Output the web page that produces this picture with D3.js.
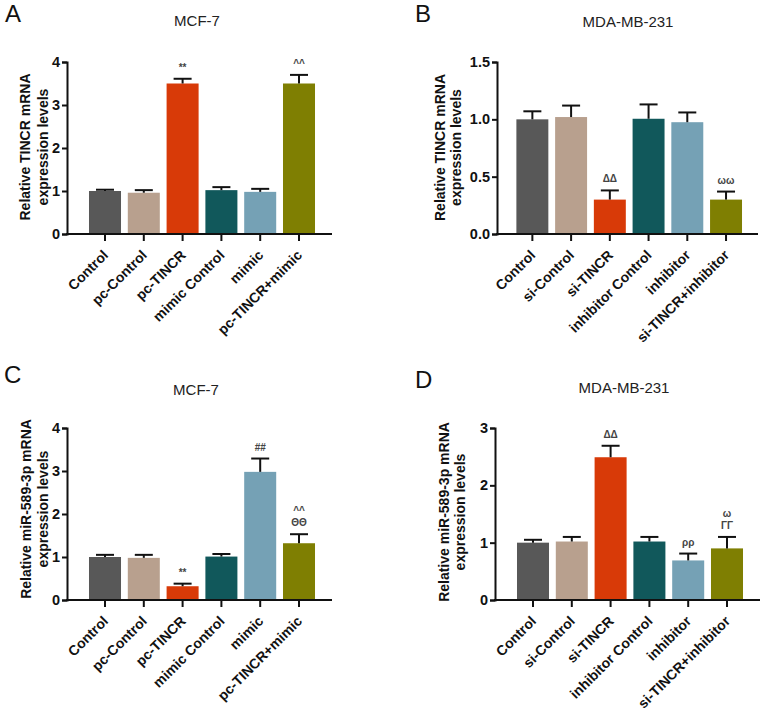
<!DOCTYPE html>
<html><head><meta charset="utf-8">
<script src="https://cdn.jsdelivr.net/npm/d3@7"></script>
<style>body{margin:0;background:#fff} text{font-family:"Liberation Sans",Arial,Helvetica,sans-serif}</style>
</head><body><svg id="c" width="765" height="715"></svg>
<script>
// ---- data ----
const catsMCF = ["Control","pc-Control","pc-TINCR","mimic Control","mimic","pc-TINCR+mimic"];
const catsMDA = ["Control","si-Control","si-TINCR","inhibitor Control","inhibitor","si-TINCR+inhibitor"];
const barColors = ["#585858","#b8a08e","#d83a08","#11585b","#75a1b5","#7f7f02"];

const valsA = [1.00,0.96,3.50,1.02,0.98,3.50];
const errA  = [0.03,0.06,0.11,0.07,0.07,0.20];
const valsB = [1.00,1.02,0.30,1.005,0.975,0.30];
const errB  = [0.07,0.10,0.08,0.125,0.085,0.07];
const valsC = [1.00,0.98,0.32,1.01,2.98,1.32];
const errC  = [0.05,0.07,0.06,0.06,0.31,0.21];
const valsD = [1.00,1.02,2.49,1.02,0.69,0.90];
const errD  = [0.05,0.08,0.20,0.08,0.12,0.20];

const marksA = [[],[],["**"],[],[],["^^"]];
const marksB = [[],[],["ΔΔ"],[],[],["ωω"]];
const marksC = [[],[],["**"],[],["##"],["ΘΘ","^^"]];
const marksD = [[],[],["ΔΔ"],[],["ρρ"],["ΓΓ","ω"]];

const ticksA = [0,1,2,3,4];
const ticksB = [0,0.5,1.0,1.5];
const ticksC = [0,1,2,3,4];
const ticksD = [0,1,2,3];

const titles = ["MCF-7","MDA-MB-231","MCF-7","MDA-MB-231"];
const letters = ["A","B","C","D"];
const yLabelTINCR = ["Relative TINCR mRNA","expression levels"];
const yLabelMiR = ["Relative miR-589-3p mRNA","expression levels"];

// ---- layout ----
const panels = [
  {cats:catsMCF, vals:valsA, errs:errA, marks:marksA, ticks:ticksA, fmt:d3.format("d"), ylab:yLabelTINCR,
   letter:[5,22], title:[197,26], yl:[30,48], ylc:147, ax:67, axEnd:332, top:62, bot:234, band:[85.6,318.4]},
  {cats:catsMDA, vals:valsB, errs:errB, marks:marksB, ticks:ticksB, fmt:d3.format(".1f"), ylab:yLabelTINCR,
   letter:[415,22], title:[628,26.5], yl:[445,461], ylc:147.5, ax:497, axEnd:758, top:62, bot:234, band:[513,745.4]},
  {cats:catsMCF, vals:valsC, errs:errC, marks:marksC, ticks:ticksC, fmt:d3.format("d"), ylab:yLabelMiR,
   letter:[4,383], title:[196,395], yl:[31,48], ylc:509, ax:67, axEnd:332, top:428, bot:600, band:[85.6,318.4]},
  {cats:catsMDA, vals:valsD, errs:errD, marks:marksD, ticks:ticksD, fmt:d3.format("d"), ylab:yLabelMiR,
   letter:[415,388], title:[624,393], yl:[449,465], ylc:512, ax:495, axEnd:760, top:428, bot:600, band:[513.6,746.4]}
];

const svg = d3.select("#c");
svg.append("rect").attr("width",765).attr("height",715).attr("fill","#fff");
const ink = "#111";

panels.forEach((p,i) => {
  const g = svg.append("g");
  const ymax = p.ticks[p.ticks.length-1];
  const y = d3.scaleLinear().domain([0,ymax]).range([p.bot,p.top]);
  const x = d3.scaleBand().domain(p.cats).range(p.band).paddingInner(0.175).paddingOuter(0.0875);

  // letter & title
  g.append("text").attr("x",p.letter[0]).attr("y",p.letter[1]).attr("font-size",24).attr("fill","#111").text(letters[i]);
  g.append("text").attr("x",p.title[0]).attr("y",p.title[1]).attr("text-anchor","middle").attr("font-size",15).attr("fill","#222").text(titles[i]);

  // bars
  g.selectAll("rect.bar").data(p.vals).join("rect").attr("class","bar")
    .attr("x",(d,j)=>x(p.cats[j])).attr("width",x.bandwidth())
    .attr("y",d=>y(d)).attr("height",d=>y(0)-y(d))
    .attr("fill",(d,j)=>barColors[j]);

  // error bars (upper)
  const capW = 18;
  p.vals.forEach((v,j)=>{
    const cx = x(p.cats[j]) + x.bandwidth()/2;
    const yt = y(v + p.errs[j]);
    g.append("line").attr("x1",cx).attr("x2",cx).attr("y1",y(v)).attr("y2",yt).attr("stroke",ink).attr("stroke-width",2);
    g.append("line").attr("x1",cx-capW/2).attr("x2",cx+capW/2).attr("y1",yt).attr("y2",yt).attr("stroke",ink).attr("stroke-width",2);
    p.marks[j].forEach((m,k)=>{
      g.append("text").attr("x",cx).attr("y",yt-8-k*12).attr("text-anchor","middle")
        .attr("font-size",10).attr("font-weight","bold").attr("fill","#444").text(m);
    });
  });

  // y axis
  const ya = g.append("g").attr("transform",`translate(${p.ax},0)`)
    .call(d3.axisLeft(y).tickValues(p.ticks).tickFormat(p.fmt).tickSizeOuter(0).tickSize(5).tickPadding(2));
  ya.select(".domain").attr("stroke",ink).attr("stroke-width",2);
  ya.selectAll(".tick line").attr("stroke",ink).attr("stroke-width",2);
  ya.selectAll(".tick text").attr("font-size",14.5).attr("font-weight","bold").attr("fill","#111")
    .attr("font-family",'"Liberation Sans",Arial,sans-serif');

  // x axis
  g.append("line").attr("x1",p.ax-1).attr("x2",p.axEnd).attr("y1",p.bot).attr("y2",p.bot).attr("stroke",ink).attr("stroke-width",2);
  const xa = g.append("g").attr("transform",`translate(0,${p.bot})`)
    .call(d3.axisBottom(x).tickSize(7).tickSizeOuter(0));
  xa.select(".domain").remove();
  xa.selectAll(".tick line").attr("stroke",ink).attr("stroke-width",2);
  xa.selectAll(".tick text")
    .attr("font-size",14).attr("font-weight","bold").attr("fill","#111")
    .attr("font-family",'"Liberation Sans",Arial,sans-serif')
    .attr("text-anchor","end").attr("y",0).attr("dy",0)
    .attr("transform","translate(4,22) rotate(-45)");

  // y label
  p.ylab.forEach((t,k)=>{
    g.append("text").attr("transform",`translate(${p.yl[k]},${p.ylc}) rotate(-90)`)
      .attr("text-anchor","middle").attr("font-size",14).attr("font-weight","bold").attr("fill","#111").text(t);
  });
});
</script></body></html>
